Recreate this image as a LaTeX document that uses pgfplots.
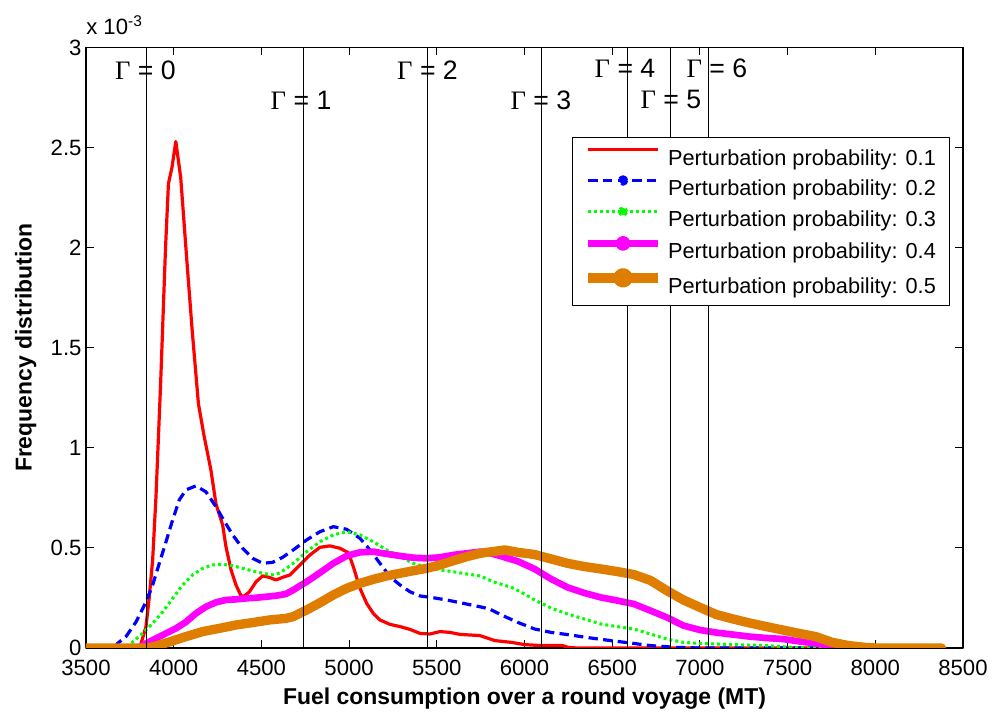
\documentclass[border=0pt]{standalone}
\usepackage{pgfplots}
\usepackage{pgfplotstable}
\pgfplotsset{compat=1.18}
\usepackage{fontspec}
\setmainfont{Liberation Sans}
\newfontfamily\serifG{Liberation Serif}
\definecolor{mOrange}{RGB}{222,125,0}
\definecolor{mRed}{RGB}{255,0,0}
\definecolor{mBlue}{RGB}{0,0,255}
\definecolor{mGreen}{RGB}{0,255,0}
\definecolor{mMagenta}{RGB}{255,0,255}
\newcommand{\tickfont}{\fontsize{16.6pt}{19pt}\selectfont}
\newcommand{\legfont}{\fontsize{16.3pt}{19pt}\selectfont}
\newcommand{\labfont}{\fontsize{17.2pt}{20pt}\selectfont}
\newcommand{\gfont}{\fontsize{20pt}{24pt}\selectfont}
\pgfplotsset{
  legline/.style={legend image code/.code={\draw[##1, line cap=butt] (0pt,5.9pt) -- (52pt,5.9pt);}},
  legdot/.style 2 args={legend image code/.code={\draw[##1, line cap=butt] (0pt,5.9pt) -- (52pt,5.9pt); \fill[#1] (26pt,5.9pt) circle (#2);}},
}

\pgfplotstableread{
x y
3500 0
3800 0
3813 0.02e-3
3842 0.107e-3
3861 0.256e-3
3880 0.44e-3
3899 0.756e-3
3925 1.31e-3
3953 1.99e-3
3970 2.32e-3
3990 2.40e-3
4012 2.53e-3
4040 2.35e-3
4078 1.90e-3
4106 1.58e-3
4141 1.22e-3
4173 1.06e-3
4212 0.89e-3
4241 0.72e-3
4279 0.615e-3
4298 0.506e-3
4327 0.39e-3
4355 0.315e-3
4384 0.26e-3
4403 0.26e-3
4431 0.28e-3
4469 0.33e-3
4507 0.36e-3
4545 0.353e-3
4583 0.34e-3
4621 0.353e-3
4663 0.365e-3
4720 0.415e-3
4777 0.465e-3
4834 0.503e-3
4891 0.51e-3
4948 0.498e-3
4996 0.476e-3
5024 0.406e-3
5062 0.298e-3
5100 0.223e-3
5138 0.173e-3
5176 0.14e-3
5233 0.118e-3
5290 0.107e-3
5347 0.093e-3
5404 0.073e-3
5461 0.07e-3
5518 0.082e-3
5575 0.078e-3
5632 0.068e-3
5689 0.065e-3
5746 0.062e-3
5831 0.037e-3
5926 0.028e-3
6000 0.017e-3
6094 0.012e-3
6217 0.012e-3
6250 0.003e-3
6300 0
8378 0
}\pone

\pgfplotstableread{
x y
3500 0
3660 0
3680 0.023e-3
3728 0.057e-3
3785 0.13e-3
3842 0.23e-3
3880 0.315e-3
3918 0.423e-3
3956 0.53e-3
3994 0.64e-3
4032 0.74e-3
4070 0.79e-3
4127 0.81e-3
4184 0.78e-3
4241 0.706e-3
4279 0.648e-3
4336 0.565e-3
4393 0.498e-3
4450 0.448e-3
4507 0.423e-3
4564 0.428e-3
4621 0.453e-3
4682 0.49e-3
4758 0.54e-3
4834 0.581e-3
4910 0.606e-3
4986 0.593e-3
5062 0.548e-3
5119 0.49e-3
5176 0.423e-3
5233 0.356e-3
5290 0.315e-3
5347 0.281e-3
5404 0.26e-3
5480 0.251e-3
5556 0.24e-3
5651 0.223e-3
5746 0.206e-3
5800 0.195e-3
5868 0.165e-3
5962 0.128e-3
6057 0.095e-3
6151 0.078e-3
6245 0.067e-3
6377 0.05e-3
6491 0.037e-3
6604 0.025e-3
6717 0.012e-3
6868 0.003e-3
7000 0
8378 0
}\ptwo

\pgfplotstableread{
x y
3500 0
3740 0
3766 0.03e-3
3823 0.073e-3
3880 0.123e-3
3937 0.18e-3
3994 0.248e-3
4051 0.315e-3
4108 0.365e-3
4165 0.398e-3
4222 0.415e-3
4279 0.418e-3
4336 0.411e-3
4393 0.398e-3
4450 0.385e-3
4507 0.373e-3
4564 0.365e-3
4606 0.375e-3
4682 0.423e-3
4758 0.481e-3
4834 0.531e-3
4910 0.565e-3
4986 0.581e-3
5062 0.565e-3
5138 0.531e-3
5214 0.49e-3
5290 0.456e-3
5366 0.423e-3
5442 0.403e-3
5518 0.39e-3
5594 0.381e-3
5670 0.37e-3
5746 0.36e-3
5831 0.328e-3
5926 0.303e-3
6000 0.27e-3
6057 0.24e-3
6151 0.20e-3
6245 0.17e-3
6340 0.145e-3
6434 0.12e-3
6528 0.107e-3
6623 0.095e-3
6717 0.07e-3
6811 0.045e-3
6906 0.028e-3
7000 0.023e-3
7189 0.017e-3
7378 0.012e-3
7528 0.003e-3
7660 0
8378 0
}\pthree

\pgfplotstableread{
x y
3500 0
3800 0
3842 0.023e-3
3899 0.048e-3
3956 0.073e-3
4013 0.098e-3
4070 0.13e-3
4127 0.173e-3
4184 0.206e-3
4241 0.228e-3
4298 0.24e-3
4355 0.243e-3
4412 0.248e-3
4469 0.251e-3
4526 0.256e-3
4583 0.261e-3
4640 0.27e-3
4682 0.29e-3
4758 0.331e-3
4834 0.376e-3
4910 0.423e-3
4986 0.46e-3
5062 0.478e-3
5138 0.481e-3
5214 0.47e-3
5290 0.46e-3
5366 0.451e-3
5442 0.448e-3
5518 0.453e-3
5594 0.465e-3
5670 0.473e-3
5746 0.481e-3
5800 0.475e-3
5868 0.458e-3
5962 0.433e-3
6057 0.395e-3
6151 0.345e-3
6245 0.303e-3
6340 0.275e-3
6434 0.253e-3
6528 0.237e-3
6623 0.22e-3
6717 0.187e-3
6811 0.153e-3
6906 0.112e-3
7000 0.09e-3
7094 0.077e-3
7189 0.067e-3
7283 0.057e-3
7378 0.05e-3
7472 0.045e-3
7566 0.033e-3
7660 0.023e-3
7755 0.012e-3
7830 0.003e-3
7906 0
8378 0
}\pfour

\pgfplotstableread{
x y
3500 0
3850 0
3900 0.01e-3
3975 0.03e-3
4070 0.057e-3
4165 0.082e-3
4260 0.098e-3
4355 0.115e-3
4450 0.127e-3
4545 0.14e-3
4640 0.148e-3
4682 0.157e-3
4758 0.19e-3
4834 0.226e-3
4910 0.265e-3
4986 0.298e-3
5062 0.323e-3
5138 0.343e-3
5214 0.36e-3
5290 0.373e-3
5366 0.386e-3
5442 0.398e-3
5518 0.415e-3
5594 0.436e-3
5670 0.456e-3
5746 0.473e-3
5831 0.483e-3
5888 0.49e-3
5962 0.478e-3
6057 0.467e-3
6151 0.445e-3
6245 0.423e-3
6340 0.407e-3
6434 0.395e-3
6528 0.382e-3
6623 0.367e-3
6717 0.338e-3
6811 0.287e-3
6906 0.24e-3
7000 0.203e-3
7094 0.167e-3
7189 0.145e-3
7283 0.125e-3
7378 0.107e-3
7472 0.09e-3
7566 0.073e-3
7660 0.057e-3
7755 0.028e-3
7849 0.012e-3
7944 0.003e-3
8000 0
8378 0
}\pfive

\begin{document}
\begin{tikzpicture}
\begin{axis}[
  scale only axis,
  width=657.75pt, height=450.4pt,
  xmin=3500, xmax=8500, ymin=0, ymax=3e-3,
  xtick={3500,4000,...,8500},
  ytick={0,0.0005,0.001,0.0015,0.002,0.0025,0.003},
  yticklabels={0,0.5,1,1.5,2,2.5,3},
  scaled y ticks=false, scaled x ticks=false,
  /pgf/number format/set thousands separator={},
  /pgf/number format/assume math mode=true,
  tick align=inside, major tick length=6pt,
  tick pos=both,
  tick style={black, line width=0.75pt},
  axis line style={black, line width=1.2pt},
  tick label style={font=\tickfont},
  xticklabel style={inner sep=0pt, anchor=north, yshift=-8.6pt},
  yticklabel style={inner sep=0pt, anchor=east, xshift=-3.2pt},
  xlabel={Fuel consumption over a round voyage (MT)},
  ylabel={Frequency distribution},
  xlabel style={font=\labfont\bfseries, at={(axis description cs:0.5,-0.0949)}, anchor=base, inner sep=0pt},
  ylabel style={font=\labfont\bfseries, at={(axis description cs:-0.0619,0.5)}, anchor=base, inner sep=0pt},
  legend style={at={(0.554,0.851)}, anchor=north west, draw=black, line width=0.75pt, fill=white,
    font=\legfont, inner xsep=8.5pt, inner ysep=4.3pt, row sep=1.8pt, column sep=2.8pt,
    nodes={inner sep=1.5pt, text height=14.9pt, text depth=3.5pt}},
  legend cell align=left,
  line join=round,
]
\addplot[mRed, line width=2.4pt, legline] table[x=x,y=y] {\pone};
\addlegendentry{Perturbation probability: 0.1}
\addplot[mBlue, line width=2.4pt, dash pattern=on 7pt off 4pt, legdot={mBlue}{2.7pt}] table[x=x,y=y] {\ptwo};
\addlegendentry{Perturbation probability: 0.2}
\addplot[mGreen, line width=2.3pt, dash pattern=on 2.2pt off 2.3pt, legdot={mGreen}{2.7pt}] table[x=x,y=y] {\pthree};
\addlegendentry{Perturbation probability: 0.3}
\addplot[mMagenta, line width=5pt, legdot={mMagenta}{3.1pt}] table[x=x,y=y] {\pfour};
\addlegendentry{Perturbation probability: 0.4}
\addplot[mOrange, line width=7pt, line cap=round, legdot={mOrange}{3.9pt}] table[x=x,y=y] {\pfive};
\addlegendentry{Perturbation probability: 0.5}

\addplot[black, line width=0.7pt, forget plot] coordinates {(3846,0) (3846,0.003)};
\addplot[black, line width=0.7pt, forget plot] coordinates {(4741,0) (4741,0.003)};
\addplot[black, line width=0.7pt, forget plot] coordinates {(5446,0) (5446,0.003)};
\addplot[black, line width=0.7pt, forget plot] coordinates {(6098,0) (6098,0.003)};
\addplot[black, line width=0.7pt, forget plot] coordinates {(6588,0) (6588,0.003)};
\addplot[black, line width=0.7pt, forget plot] coordinates {(6831,0) (6831,0.003)};
\addplot[black, line width=0.7pt, forget plot] coordinates {(7048,0) (7048,0.003)};

\node[font=\gfont, inner sep=0pt] at (axis cs:3839,2.888e-3) {{\serifG Γ} = 0};
\node[font=\gfont, inner sep=0pt] at (axis cs:4726,2.738e-3) {{\serifG Γ} = 1};
\node[font=\gfont, inner sep=0pt] at (axis cs:5447,2.888e-3) {{\serifG Γ} = 2};
\node[font=\gfont, inner sep=0pt] at (axis cs:6094,2.738e-3) {{\serifG Γ} = 3};
\node[font=\gfont, inner sep=0pt] at (axis cs:6573,2.898e-3) {{\serifG Γ} = 4};
\node[font=\gfont, inner sep=0pt] at (axis cs:6835,2.738e-3) {{\serifG Γ} = 5};
\node[font=\gfont, inner sep=0pt] at (axis cs:7097,2.898e-3) {{\serifG Γ} = 6};
\end{axis}
\node[font=\tickfont, anchor=base west, inner sep=0pt] at ([yshift=9.4pt]current axis.north west) {x 10\textsuperscript{-3}};
\path ([xshift=-64.5pt, yshift=-48.75pt]current axis.south west) rectangle ([xshift=21.75pt, yshift=35.6pt]current axis.north east);
\end{tikzpicture}
\end{document}
